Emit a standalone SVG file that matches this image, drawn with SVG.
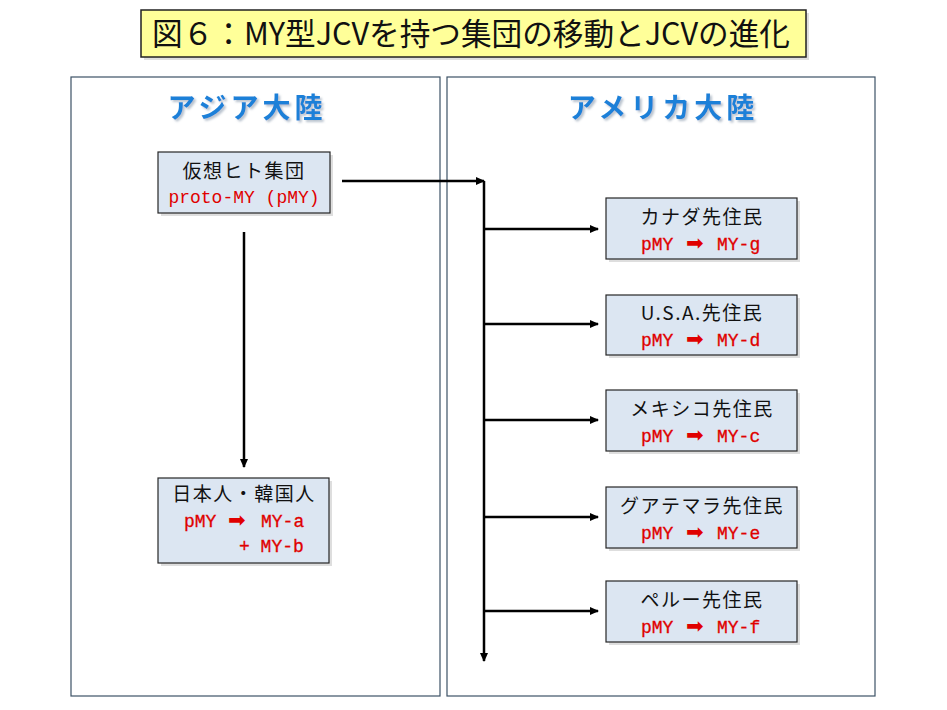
<svg xmlns="http://www.w3.org/2000/svg" width="947" height="710" viewBox="0 0 947 710">
<style>
.panel{fill:#fff;stroke:#3d5266;stroke-width:1.2}
.node{fill:#dce6f2;stroke:#262626;stroke-width:1.2}
.shadow{fill:#c8c8c8;opacity:0.6}
.jp{font-family:"Noto Sans CJK JP","Noto Sans CJK SC",sans-serif;font-size:19px;fill:#111;letter-spacing:1.5px}
.red{font-family:"Liberation Mono","DejaVu Sans Mono",monospace;font-size:18px;fill:#e00000;stroke:#e00000;stroke-width:0.3}
.thin{stroke:none}
.arr{font-family:"DejaVu Sans",sans-serif;font-size:21px;fill:#e00000}
.head{font-family:"Noto Sans CJK JP",sans-serif;font-size:28px;font-weight:bold;fill:#1f80d8;letter-spacing:4px}
.conn{stroke:#000;stroke-width:2.5;fill:none}
</style>
<defs>
<marker id="ah" markerWidth="10" markerHeight="10" refX="8" refY="5" orient="auto" markerUnits="userSpaceOnUse">
<path d="M0,1 L9,5 L0,9 Z" fill="#000"/>
</marker>
<filter id="ts" x="-10%" y="-20%" width="130%" height="150%">
<feDropShadow dx="2" dy="2" stdDeviation="1.2" flood-color="#9aa8b8" flood-opacity="0.7"/>
</filter>
</defs>
<rect width="947" height="710" fill="#fff"/>
<g id="title">
<rect x="144" y="13" width="665" height="47" fill="#c0c0c0" opacity="0.5"/>
<rect x="141" y="10" width="665" height="47" fill="#ffff99" stroke="#222" stroke-width="1.5"/>
<text x="152" y="45" font-family="Noto Sans CJK JP,sans-serif" font-size="31" fill="#111" textLength="638" lengthAdjust="spacingAndGlyphs">図６：MY型JCVを持つ集団の移動とJCVの進化</text>
</g>
<g id="asia-panel">
<rect class="panel" x="71" y="77" width="369" height="619"/>
<text class="head" x="247" y="118" text-anchor="middle" filter="url(#ts)">アジア大陸</text>
</g>
<g id="america-panel">
<rect class="panel" x="447" y="77" width="428" height="619"/>
<text class="head" x="663" y="118" text-anchor="middle" filter="url(#ts)">アメリカ大陸</text>
</g>
<g id="connectors">
<line class="conn" x1="342" y1="181" x2="484" y2="181" marker-end="url(#ah)"/>
<line class="conn" x1="484" y1="181" x2="484" y2="661" marker-end="url(#ah)"/>
<line class="conn" x1="244" y1="232" x2="244" y2="467" marker-end="url(#ah)"/>
<line class="conn" x1="484" y1="229" x2="598" y2="229" marker-end="url(#ah)"/>
<line class="conn" x1="484" y1="324" x2="598" y2="324" marker-end="url(#ah)"/>
<line class="conn" x1="484" y1="420" x2="598" y2="420" marker-end="url(#ah)"/>
<line class="conn" x1="484" y1="517" x2="598" y2="517" marker-end="url(#ah)"/>
<line class="conn" x1="484" y1="611" x2="598" y2="611" marker-end="url(#ah)"/>
</g>
<g id="node-proto">
<rect class="shadow" x="161" y="155" width="172" height="61"/>
<rect class="node" x="158" y="152" width="172" height="61"/>
<text class="jp" x="244" y="178" text-anchor="middle">仮想ヒト集団</text>
<text class="red thin" x="244" y="203" text-anchor="middle">proto-MY (pMY)</text>
</g>
<g id="node-japan">
<rect class="shadow" x="161" y="481" width="171" height="85"/>
<rect class="node" x="158" y="478" width="171" height="85"/>
<text class="jp" x="244" y="501" text-anchor="middle">日本人・韓国人</text>
<text class="red" x="184" y="527">pMY</text>
<text class="arr" x="228" y="527">➡&#xFE0E;</text>
<text class="red" x="261" y="527">MY-a</text>
<text class="red" x="239" y="552">+ MY-b</text>
</g>
<g id="node-canada">
<rect class="shadow" x="609" y="201" width="191" height="61"/>
<rect class="node" x="606" y="198" width="191" height="61"/>
<text class="jp" x="702" y="224" text-anchor="middle">カナダ先住民</text>
<text class="red" x="641" y="250">pMY</text>
<text class="arr" x="686" y="250">➡&#xFE0E;</text>
<text class="red" x="717" y="250">MY-g</text>
</g>
<g id="node-usa">
<rect class="shadow" x="609" y="298" width="191" height="60"/>
<rect class="node" x="606" y="295" width="191" height="60"/>
<text class="jp" x="702" y="320" text-anchor="middle">U.S.A.先住民</text>
<text class="red" x="641" y="346">pMY</text>
<text class="arr" x="686" y="346">➡&#xFE0E;</text>
<text class="red" x="717" y="346">MY-d</text>
</g>
<g id="node-mexico">
<rect class="shadow" x="609" y="393" width="191" height="61"/>
<rect class="node" x="606" y="390" width="191" height="61"/>
<text class="jp" x="702" y="416" text-anchor="middle">メキシコ先住民</text>
<text class="red" x="641" y="442">pMY</text>
<text class="arr" x="686" y="442">➡&#xFE0E;</text>
<text class="red" x="717" y="442">MY-c</text>
</g>
<g id="node-guatemala">
<rect class="shadow" x="609" y="490" width="191" height="61"/>
<rect class="node" x="606" y="487" width="191" height="61"/>
<text class="jp" x="702" y="513" text-anchor="middle">グアテマラ先住民</text>
<text class="red" x="641" y="539">pMY</text>
<text class="arr" x="686" y="539">➡&#xFE0E;</text>
<text class="red" x="717" y="539">MY-e</text>
</g>
<g id="node-peru">
<rect class="shadow" x="609" y="584" width="191" height="61"/>
<rect class="node" x="606" y="581" width="191" height="61"/>
<text class="jp" x="702" y="607" text-anchor="middle">ペルー先住民</text>
<text class="red" x="641" y="633">pMY</text>
<text class="arr" x="686" y="633">➡&#xFE0E;</text>
<text class="red" x="717" y="633">MY-f</text>
</g>
</svg>
